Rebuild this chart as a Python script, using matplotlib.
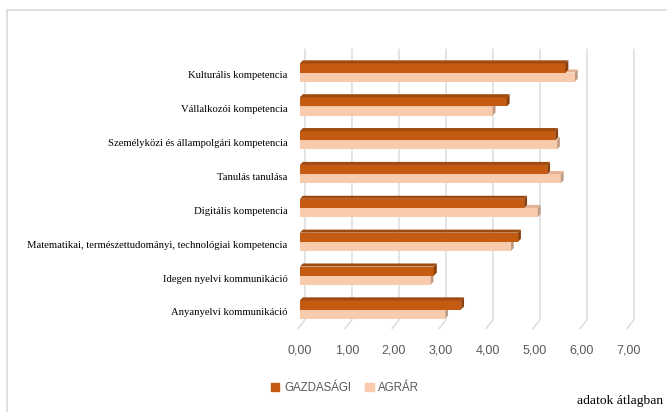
import matplotlib
matplotlib.use('Agg')
import matplotlib.pyplot as plt
from matplotlib.patches import Polygon, Rectangle, Patch

categories = ['Kulturális kompetencia', 'Vállalkozói kompetencia',
              'Személyközi és állampolgári kompetencia', 'Tanulás tanulása',
              'Digitális kompetencia',
              'Matematikai, természettudományi, technológiai kompetencia',
              'Idegen nyelvi kommunikáció', 'Anyanyelvi kommunikáció']
gazdasagi = [5.65, 4.40, 5.43, 5.26, 4.77, 4.64, 2.85, 3.43]
agrar = [5.85, 4.10, 5.47, 5.55, 5.06, 4.49, 2.78, 3.09]
ticks = [0, 1, 2, 3, 4, 5, 6, 7]
tick_labels = ['0,00', '1,00', '2,00', '3,00', '4,00', '5,00', '6,00', '7,00']

C_G = ('#C55A11', '#9E4A10', '#8A3E0C')   # front, top, side
C_A = ('#F8CBAD', '#E3B393', '#BF9C86')

fig = plt.figure(figsize=(6.67, 4.12), dpi=100)
ax = fig.add_axes([300/667, 82.5/412, 329/667, 280/412])
n = len(categories)
ys = [n-1-i for i in range(n)]
h = 0.27
dx, dy = 0.06, 0.09

ax.set_xlim(0, 7)
ax.set_ylim(-0.59, 7.68)

# 3d-ish gridlines (back wall + floor)
for t in ticks:
    ax.plot([t+0.106, t+0.106, t-0.04], [7.68, -0.30, -0.56], color='#D9D9D9', lw=1.0, zorder=0, clip_on=False)

def bar3d(y, v, cols):
    y0, y1 = y-h/2, y+h/2
    ax.barh(y, v, height=h, color=cols[0], zorder=3)
    ax.add_patch(Polygon([(0, y1), (v, y1), (v+dx, y1+dy), (dx, y1+dy)], closed=True, fc=cols[1], ec='none', zorder=3))
    ax.add_patch(Polygon([(v, y0), (v+dx, y0+dy), (v+dx, y1+dy), (v, y1)], closed=True, fc=cols[2], ec='none', zorder=3))

for y, g, a in zip(ys, gazdasagi, agrar):
    bar3d(y-h/2, a, C_A)
    bar3d(y+h/2, g, C_G)

for s in ax.spines.values():
    s.set_visible(False)
ax.set_yticks([y-0.07 for y in ys])
ax.set_yticklabels(categories, family='Liberation Serif', fontsize=7.7)
ax.tick_params(axis='y', length=0, pad=9)
ax.set_xticks(ticks)
ax.set_xticklabels(tick_labels, family='Liberation Sans', fontsize=9, color='#595959')
ax.tick_params(axis='x', length=0, pad=11)

handles = [Patch(color=C_G[0], label='GAZDASÁGI'), Patch(color=C_A[0], label='AGRÁR')]
fig.legend(handles=handles, loc='center', bbox_to_anchor=(345/667, 1-388/412), ncol=2, frameon=False,
           handlelength=0.75, handleheight=0.75, handletextpad=0.4, columnspacing=1.2,
           prop={'family': 'Liberation Sans', 'size': 8.3}, labelcolor='#595959')
fig.text(663/667, 1-401/412, 'adatok átlagban', ha='right', va='center', family='Liberation Serif', fontsize=9.7)

# chart frame
fig.add_artist(Rectangle((7/667, -0.05), 1.0, 1-10/412+0.05, transform=fig.transFigure, fill=False, ec='#D9D9D9', lw=1.2))

fig.savefig('out.png', dpi=100)
